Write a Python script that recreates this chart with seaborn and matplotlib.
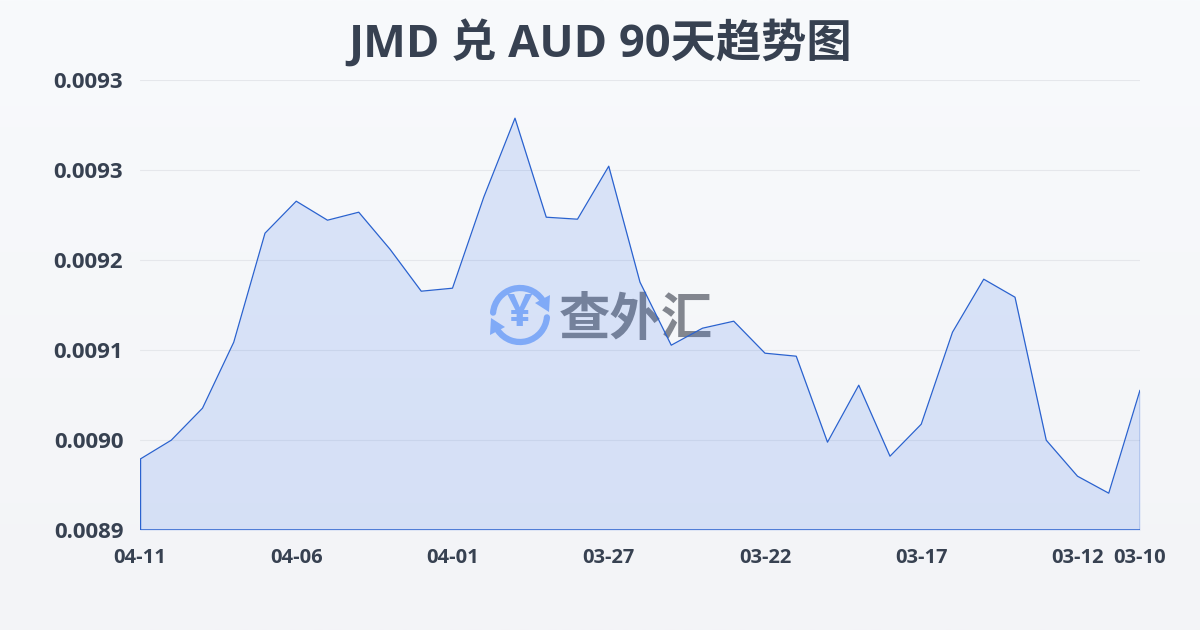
import numpy as np
import pandas as pd
import seaborn as sns
import matplotlib.pyplot as plt
from matplotlib.colors import LinearSegmentedColormap
from matplotlib.patches import Arc, Polygon

# newest first, the same order as the x axis
rates = [0.008971, 0.008990, 0.009022, 0.009088, 0.009197, 0.009229, 0.009210,
         0.009218, 0.009181, 0.009139, 0.009142, 0.009233, 0.009312, 0.009213,
         0.009211, 0.009264, 0.009148, 0.009085, 0.009102, 0.009109, 0.009077,
         0.009074, 0.008988, 0.009045, 0.008974, 0.009006, 0.009098, 0.009151,
         0.009133, 0.008990, 0.008954, 0.008937, 0.009040]
day_labels = ['04-11', '04-06', '04-01', '03-27', '03-22', '03-17', '03-12', '03-10']
day_ticks = [0, 5, 10, 15, 20, 25, 30, 32]
y_ticks = [0.0089, 0.00899, 0.00908, 0.00917, 0.00926, 0.00935]
y_labels = ['0.0089', '0.0090', '0.0091', '0.0092', '0.0093', '0.0093']

df = pd.DataFrame({'day': range(len(rates)), 'rate': rates})

sns.set_theme(style='white')
plt.rcParams['font.family'] = ['Open Sans', 'Noto Sans CJK SC']

text_color = '#374151'
line_color = '#2a62cf'
logo_color = '#8fb6f9'

fig = plt.figure(figsize=(12, 6.3), dpi=100)

# background and watermark, drawn in pixel coordinates behind the chart
bg = fig.add_axes([0, 0, 1, 1], zorder=0)
bg.axis('off')
shade = np.linspace(0, 1, 256).reshape(-1, 1)
bg.imshow(shade, extent=[0, 1200, 630, 0], aspect='auto', origin='upper',
          cmap=LinearSegmentedColormap.from_list('bg', ['#f8fafc', '#f3f4f7']))
bg.set_xlim(0, 1200)
bg.set_ylim(630, 0)

bg.add_patch(Arc((520, 315), 54, 54, theta1=185, theta2=325, color=logo_color, lw=4.5, capstyle='round'))
bg.add_patch(Arc((520, 315), 54, 54, theta1=5, theta2=145, color=logo_color, lw=4.5, capstyle='round'))
bg.add_patch(Polygon([[550, 295], [549, 312], [535, 303]], color=logo_color, lw=0))
bg.add_patch(Polygon([[490, 335], [491, 318], [505, 327]], color=logo_color, lw=0))
bg.text(520, 314, '¥', ha='center', va='center', fontsize=32, fontweight='bold', color=logo_color)
bg.text(636, 319, '查外汇', ha='center', va='center', fontsize=37, fontweight='bold',
        color='#656a75', alpha=0.8, family=['Noto Sans CJK SC', 'DejaVu Sans'])

# chart area
ax = fig.add_axes([140 / 1200, 1 - 530.2 / 630, 1000 / 1200, 450 / 630], zorder=1)
ax.patch.set_visible(False)
ax.fill_between(df['day'], df['rate'], y_ticks[0], facecolor='#2563eb', alpha=0.14, lw=0)
ax.plot([0, 0], [y_ticks[0], rates[0]], color=line_color, lw=1)
ax.plot([len(rates) - 1, len(rates) - 1], [y_ticks[0], rates[-1]], color=line_color, lw=1)
ax.axhline(y_ticks[0], color=line_color, lw=1.1, zorder=3)
sns.lineplot(data=df, x='day', y='rate', color=line_color, lw=0.9, ax=ax)

ax.set_xlim(0, len(rates) - 1)
ax.set_ylim(y_ticks[0], y_ticks[-1])
ax.set_xticks(day_ticks)
ax.set_xticklabels(day_labels)
ax.set_yticks(y_ticks)
ax.set_yticklabels(y_labels)
ax.set_xlabel('')
ax.set_ylabel('')
ax.grid(axis='y', color='#e5e7eb', lw=0.8)
ax.set_axisbelow(True)
for side in ax.spines:
    ax.spines[side].set_visible(False)
ax.tick_params(axis='x', length=10, width=0.8, color='#e5e7eb', pad=3, labelsize=14.5, labelcolor=text_color)
ax.tick_params(axis='y', length=8, width=0.8, color='#e5e7eb', pad=4, labelsize=16, labelcolor=text_color)
for label in ax.get_xticklabels() + ax.get_yticklabels():
    label.set_fontweight('bold')

fig.text(0.5, 1 - 45 / 630, 'JMD 兑 AUD 90天趋势图', ha='center', va='center',
         fontsize=32.6, fontweight='bold', color=text_color)

fig.savefig('out.png', dpi=100)
